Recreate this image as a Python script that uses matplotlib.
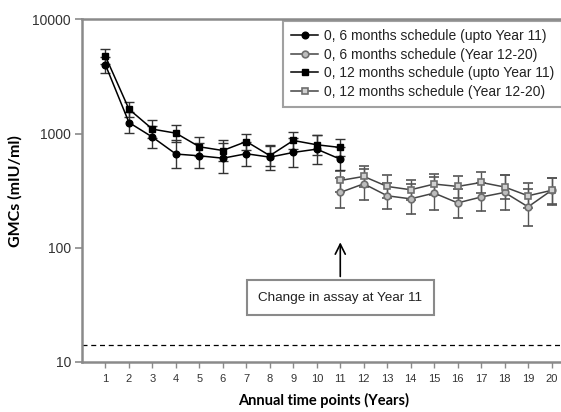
import numpy as np
import matplotlib
matplotlib.use("Agg")
import matplotlib.pyplot as plt
from matplotlib.ticker import FixedLocator, FixedFormatter, NullLocator

plt.rcParams['font.family'] = ['Liberation Sans', 'DejaVu Sans']

# years for each part of the study
years_early = np.arange(1, 12)
years_late = np.arange(11, 21)

# 0, 6 months schedule (upto Year 11)
gmc_6_early = [3985, 1248, 930, 661, 638, 608, 665, 621, 683, 730, 596]
lo_6_early = [3390, 1020, 745, 498, 498, 450, 522, 482, 508, 543, 475]
hi_6_early = [4680, 1530, 1160, 880, 820, 820, 850, 800, 920, 980, 760]

# 0, 12 months schedule (upto Year 11)
gmc_12_early = [4730, 1633, 1092, 1007, 765, 710, 851, 640, 869, 797, 755]
lo_12_early = [4050, 1400, 920, 850, 630, 575, 720, 520, 735, 650, 630]
hi_12_early = [5500, 1905, 1300, 1191, 930, 880, 1000, 785, 1028, 975, 899]

# 0, 6 months schedule (Year 12-20)
gmc_6_late = [305, 363, 285, 268, 301, 247, 278, 305, 228, 318]
lo_6_late = [223, 264, 218, 199, 212, 182, 208, 212, 154, 238]
hi_6_late = [410, 490, 370, 360, 420, 330, 370, 430, 330, 412]

# 0, 12 months schedule (Year 12-20)
gmc_12_late = [388, 421, 344, 322, 361, 344, 373, 340, 285, 318]
lo_12_late = [310, 340, 275, 262, 290, 275, 300, 265, 225, 240]
hi_12_late = [472, 522, 436, 394, 445, 427, 459, 436, 368, 412]

labels = ["0, 6 months schedule (upto Year 11)",
          "0, 6 months schedule (Year 12-20)",
          "0, 12 months schedule (upto Year 11)",
          "0, 12 months schedule (Year 12-20)"]

cutoff = 14
spine_grey = '#8a8a8a'
open_grey = '#6e6e6e'


def yerr(vals, lo, hi):
    vals = np.array(vals, dtype=float)
    return [vals - np.array(lo), np.array(hi) - vals]


fig = plt.figure(figsize=(5.61, 4.12), dpi=100)
ax = fig.add_axes([0.1462, 0.1214, 0.86, 0.8318])

common = dict(capsize=3.5, elinewidth=1, capthick=1, lw=1.1, ms=4.8)

h1 = ax.errorbar(years_early, gmc_6_early, yerr=yerr(gmc_6_early, lo_6_early, hi_6_early),
                 fmt='-o', color='black', ecolor='#333333', zorder=4, **common)
h3 = ax.errorbar(years_early, gmc_12_early, yerr=yerr(gmc_12_early, lo_12_early, hi_12_early),
                 fmt='-s', color='black', ecolor='#333333', zorder=4, **common)
h2 = ax.errorbar(years_late, gmc_6_late, yerr=yerr(gmc_6_late, lo_6_late, hi_6_late),
                 fmt='-o', color='#444444', ecolor='#555555', mfc='#bdbdbd', mec=open_grey,
                 mew=1.2, zorder=3, **common)
h4 = ax.errorbar(years_late, gmc_12_late, yerr=yerr(gmc_12_late, lo_12_late, hi_12_late),
                 fmt='-s', color='#444444', ecolor='#555555', mfc='#d0d0d0', mec=open_grey,
                 mew=1.2, zorder=3, **common)

# limit of detection / seroprotection
ax.axhline(cutoff, color='black', lw=0.9, ls=(0, (4, 3)))

ax.set_yscale('log')
ax.set_ylim(10, 10000)
ax.set_xlim(0, 20.55)
ax.yaxis.set_major_locator(FixedLocator([10, 100, 1000, 10000]))
ax.yaxis.set_major_formatter(FixedFormatter(['10', '100', '1000', '10000']))
ax.yaxis.set_minor_locator(NullLocator())
ax.set_xticks(range(1, 21))

for side in ['left', 'bottom', 'top']:
    ax.spines[side].set_color(spine_grey)
    ax.spines[side].set_linewidth(1.8)
ax.spines['right'].set_visible(False)
ax.tick_params(axis='y', direction='out', length=5, width=1.2, color=spine_grey,
               labelsize=10, labelcolor='#333333', pad=3)
ax.tick_params(axis='x', direction='out', length=4, width=1.0, color=spine_grey,
               labelsize=8, labelcolor='#333333', pad=5)

ax.set_ylabel('GMCs (mIU/ml)', fontsize=11.5, fontweight='bold',
              family=['Lato', 'DejaVu Sans'], labelpad=7)
ax.set_xlabel('Annual time points (Years)', fontsize=10.5, fontweight='bold',
              family=['Lato', 'DejaVu Sans'], labelpad=6)

# annotation for assay change
ax.annotate('', xy=(11, 118), xytext=(11, 53),
            arrowprops=dict(arrowstyle='->', color='black', lw=1.2, mutation_scale=18))
ax.text(11, 36.5, 'Change in assay at Year 11', ha='center', va='center', fontsize=9.7,
        color='#222222',
        bbox=dict(boxstyle='square,pad=0.85', fc='white', ec=spine_grey, lw=1.5))

handles = [h1.lines[0], h2.lines[0], h3.lines[0], h4.lines[0]]
leg = fig.legend(handles, labels, loc='upper left',
                 bbox_to_anchor=(283 / 561, 1 - 21 / 412), fontsize=10,
                 frameon=True, fancybox=False, handlelength=2.0, borderpad=0.55,
                 labelspacing=0.35, handletextpad=0.4, borderaxespad=0)
leg.get_frame().set_edgecolor(spine_grey)
leg.get_frame().set_linewidth(1.5)
for t in leg.get_texts():
    t.set_color('#222222')

fig.savefig('out.png', dpi=100)
